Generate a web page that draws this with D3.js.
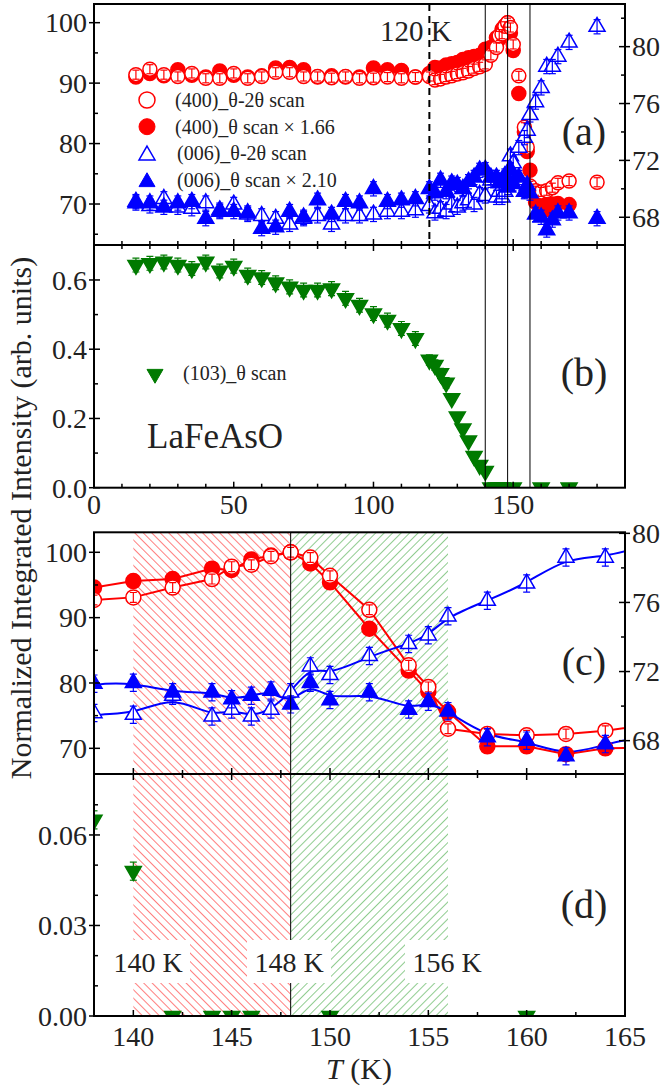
<!DOCTYPE html>
<html>
<head>
<meta charset="utf-8">
<script src="https://cdnjs.cloudflare.com/ajax/libs/d3/7.8.5/d3.min.js"></script>
<style>
  body { margin: 0; background: #fff; }
  svg { display: block; font-family: "Liberation Serif", "Times New Roman", serif; }
</style>
</head>
<body>
<svg id="chart" width="664" height="1087" font-family="Liberation Serif, serif"></svg>
<script>
// temperatures (K) shared by the (400) and (006) scans
const temps = [15, 20, 25, 30, 35, 40, 45, 50, 55, 60, 65, 70, 75, 80, 85, 90, 95, 100, 105, 110, 115,
    120, 122, 124, 126, 128, 130, 132, 134, 136,
    138, 140, 142, 144, 145, 146, 147, 148, 149, 150,
    152, 154, 155, 156, 158, 160, 162, 164, 166, 170, 180];
// (400) theta-2theta, left axis
const red2theta = [91.4, 92.3, 91.4, 91.1, 91.6, 90.8, 90.8, 91.6, 90.8, 91.1, 91.8, 91.8, 91.1, 91.1, 90.9, 91.1, 90.8, 90.9, 91.0, 90.8, 91.0,
    91.1, 90.5, 90.7, 91.0, 91.2, 91.5, 91.7, 92.0, 92.4,
    92.7, 93.1, 94.6, 95.9, 97.8, 98.1, 99.4, 100, 99.2, 96.4,
    91.2, 82.7, 79.4, 73.0, 72.2, 72.0, 72.2, 72.7, 73.5, 73.8, 73.6];
// (400) theta scan x 1.66, left axis
const redTheta = [91.0, 91.6, 91.2, 92.2, 91.3, 91.0, 92.0, 91.3, 91.0, 91.2, 92.5, 92.6, 92.2, 91.0, 91.2, 91.0, 91.0, 92.5, 92.2, 92.1, 91.0,
    91.6, 92.6, 92.5, 93.0, 93.2, 93.4, 93.9, 94.2, 94.4,
    94.6, 95.6, 95.9, 97.5, 97.3, 98.9, 99.5, 100, 98.3, 95.4,
    88.3, 81.9, 78.7, 75.6, 70.3, 70.3, 69.1, 70.0, 70.1, 69.9, null];
// (006) theta-2theta, right axis
const blue2theta = [69.0, 68.8, 69.3, 68.7, 68.6, 69.0, 68.5, 68.9, 68.2, 68.1, 67.9, 67.5, 67.9, 68.1, 67.5, 68.1, 68.1, 68.2, 68.4, 68.4, 68.5,
    68.8, 68.3, 68.6, 68.4, 68.9, 68.7, 69.0, 69.2, 68.9,
    69.6, 69.5, 70.6, 69.4, 69.8, 69.4, 69.8, 70.8, 72.3, 71.8,
    72.9, 73.6, 74.1, 75.2, 76.1, 77.1, 78.6, 78.6, 79.3, 80.3, 81.4];
// (006) theta scan x 2.10, right axis
const blueTheta = [69.1, 69.0, 68.7, 69.0, 69.1, 67.9, 68.4, 68.4, 68.3, 67.2, 67.3, 68.4, 68.0, 69.2, 68.2, 69.1, 69.0, 70.0, 69.1, 69.2, 69.3,
    70.0, 69.7, 70.6, 69.8, 70.4, 70.3, 70.0, 70.5, 70.8,
    71.3, 71.35, 70.8, 70.8, 70.4, 70.6, 70.9, 70.1, 71.35, 70.35,
    70.8, 69.8, 70.25, 69.7, 68.2, 68.0, 67.1, 67.8, 68.3, 68.3, 67.9];
const errRed = 0.75;
const errBlue = 0.5;

// (103) theta scan
const tGreen = [15, 20, 25, 30, 35, 40, 45, 50, 55, 60, 65, 70, 75, 80, 85, 90, 95, 100, 105, 110, 115,
    120, 122, 124, 126, 128, 130, 132, 134, 136, 138, 140,
    142, 144, 145, 146, 150, 160, 170];
const green103 = [0.643, 0.648, 0.652, 0.643, 0.633, 0.652, 0.626, 0.640, 0.614, 0.607, 0.592, 0.580, 0.571, 0.571, 0.575, 0.547, 0.527, 0.503, 0.484, 0.460, 0.431,
    0.369, 0.354, 0.330, 0.303, 0.258, 0.205, 0.171, 0.136, 0.091, 0.065, 0.048,
    0, 0, 0, 0, 0, 0, 0];
const greenErr = [0.02, 0.02, 0.02, 0.02, 0.02, 0.02, 0.02, 0.02, 0.02, 0.02, 0.02, 0.02, 0.02, 0.02, 0.02, 0.02, 0.02, 0.02, 0.02, 0.02, 0.02,
    0.015, 0.015, 0.015, 0.015, 0.01, 0.01, 0.01, 0.01, 0.01, 0.003, 0.003,
    0, 0, 0, 0, 0, 0, 0];

const transitions = [140, 148, 156];
const dashedT = 120;
const redZone = [140, 148];
const greenZone = [148, 156];
const zoneLabels = [["140 K", 148], ["148 K", 289], ["156 K", 447]];

const legendA = ["(400)_\u03b8-2\u03b8 scan", "(400)_\u03b8 scan \u00d7 1.66", "(006)_\u03b8-2\u03b8 scan", "(006)_\u03b8 scan \u00d7 2.10"];

const xTicksAB = [0, 50, 100, 150];
const xMinorAB = [10, 20, 30, 40, 60, 70, 80, 90, 110, 120, 130, 140, 160, 170, 180];
const xTicksCD = [140, 145, 150, 155, 160, 165];
const xMinorCD = [142.5, 147.5, 152.5, 157.5, 162.5];
const yTicksA = [70, 80, 90, 100], yMinorA = [65, 75, 85, 95];
const yTicksA2 = [68, 72, 76, 80], yMinorA2 = [70, 74, 78, 82];
const yTicksB = [0, 0.2, 0.4, 0.6], yMinorB = [0.1, 0.3, 0.5];
const yTicksC = [70, 80, 90, 100], yMinorC = [75, 85, 95];
const yTicksC2 = [68, 72, 76, 80], yMinorC2 = [70, 74, 78];
const yTicksD = [0, 0.03, 0.06], yMinorD = [0.01, 0.02, 0.04, 0.05, 0.07];

const RED = "#ff0000", BLUE = "#0000ff", GREEN = "#007a00";

const svg = d3.select("#chart");
const X0 = 94, X1 = 625;
const A = { top: 4, bottom: 245 }, B = { top: 245, bottom: 487.7 };
const C = { top: 532.3, bottom: 774 }, D = { top: 774, bottom: 1016 };

const xAB = d3.scaleLinear().domain([0, 190]).range([X0, X1]);
const xCD = d3.scaleLinear().domain([138, 165]).range([X0, X1]);
const yA = d3.scaleLinear().domain([63.22, 103.09]).range([A.bottom, A.top]);
const yA2 = d3.scaleLinear().domain([66.05, 83.0]).range([A.bottom, A.top]);
const yB = d3.scaleLinear().domain([0, 0.701]).range([B.bottom, B.top]);
const yC = d3.scaleLinear().domain([66.07, 103.06]).range([C.bottom, C.top]);
const yC2 = d3.scaleLinear().domain([66.07, 80.06]).range([C.bottom, C.top]);
const yD = d3.scaleLinear().domain([0, 0.0802]).range([D.bottom, D.top]);

const defs = svg.append("defs");
[["clipA", A], ["clipB", B], ["clipC", C], ["clipD", D]].forEach(([id, p]) => {
    defs.append("clipPath").attr("id", id).append("rect")
        .attr("x", X0).attr("y", p.top).attr("width", X1 - X0).attr("height", p.bottom - p.top);
});
function hatch(id, color, angle) {
    defs.append("pattern").attr("id", id)
        .attr("patternUnits", "userSpaceOnUse")
        .attr("width", 6).attr("height", 6)
        .attr("patternTransform", `rotate(${angle})`)
        .append("line").attr("x1", 0).attr("y1", 0).attr("x2", 0).attr("y2", 6)
        .attr("stroke", color).attr("stroke-width", 1);
}
hatch("hatchRed", RED, -45);
hatch("hatchGreen", "#229922", 45);

const series = (ys) => temps.map((t, i) => ({ t, v: ys[i] })).filter(d => d.v != null);
const redOpen = series(red2theta), redFull = series(redTheta);
const blueOpen = series(blue2theta), blueFull = series(blueTheta);
const greenPts = tGreen.map((t, i) => ({ t, v: green103[i], e: greenErr[i] }));

// marker paths, centred on the centroid
const S = 16, H = S * Math.sqrt(3) / 2;
const triUp = `M0,${-2 * H / 3}L${S / 2},${H / 3}L${-S / 2},${H / 3}Z`;
const triDown = `M0,${2 * H / 3}L${S / 2},${-H / 3}L${-S / 2},${-H / 3}Z`;

function errBars(g, data, x, y, err, color) {
    const gg = g.append("g").attr("stroke", color).attr("stroke-width", 1.2);
    data.forEach(d => {
        const e = typeof err === "number" ? err : d.e;
        if (!e) return;
        const cx = x(d.t), y1 = y(d.v - e), y2 = y(d.v + e);
        gg.append("line").attr("x1", cx).attr("x2", cx).attr("y1", y1).attr("y2", y2);
        gg.append("line").attr("x1", cx - 3.5).attr("x2", cx + 3.5).attr("y1", y1).attr("y2", y1);
        gg.append("line").attr("x1", cx - 3.5).attr("x2", cx + 3.5).attr("y1", y2).attr("y2", y2);
    });
}
function circles(g, data, x, y, r, filled, err) {
    if (filled) errBars(g, data, x, y, err, RED);
    g.append("g").selectAll("circle").data(data).join("circle")
        .attr("cx", d => x(d.t)).attr("cy", d => y(d.v)).attr("r", r)
        .attr("fill", filled ? RED : "#fff").attr("stroke", RED).attr("stroke-width", 1.5);
    if (!filled) errBars(g, data, x, y, err, RED);
}
function tris(g, data, x, y, path, color, filled, err) {
    if (filled) errBars(g, data, x, y, err, color);
    g.append("g").selectAll("path").data(data).join("path")
        .attr("transform", d => `translate(${x(d.t)},${y(d.v)})`)
        .attr("d", path)
        .attr("fill", filled ? color : "#fff").attr("stroke", color).attr("stroke-width", 1.5);
    if (!filled) errBars(g, data, x, y, err, color);
}

// ---------- hatched zones in (c)/(d)
[[redZone, "hatchRed"], [greenZone, "hatchGreen"]].forEach(([z, id]) => {
    svg.append("rect").attr("x", xCD(z[0])).attr("y", C.top)
        .attr("width", xCD(z[1]) - xCD(z[0])).attr("height", D.bottom - C.top)
        .attr("fill", `url(#${id})`);
});

// ---------- panel (a)
const gA = svg.append("g").attr("clip-path", "url(#clipA)");
circles(gA, redFull, xAB, yA, 7, true, errRed);
circles(gA, redOpen, xAB, yA, 7, false, errRed);
tris(gA, blueOpen, xAB, yA2, triUp, BLUE, false, errBlue);
tris(gA, blueFull, xAB, yA2, triUp, BLUE, true, errBlue);

// ---------- panel (b)
const gB = svg.append("g").attr("clip-path", "url(#clipB)");
tris(gB, greenPts, xAB, yB, triDown, GREEN, true, null);

// ---------- panel (c)
const gC = svg.append("g").attr("clip-path", "url(#clipC)");
const lineRed = d3.line().x(d => xCD(d.t)).y(d => yC(d.v));
const lineBlue = d3.line().x(d => xCD(d.t)).y(d => yC2(d.v)).curve(d3.curveBasis);
[redFull, redOpen].forEach(s => gC.append("path").attr("d", lineRed(s))
    .attr("fill", "none").attr("stroke", RED).attr("stroke-width", 2));
[blueOpen, blueFull].forEach(s => gC.append("path").attr("d", lineBlue(s))
    .attr("fill", "none").attr("stroke", BLUE).attr("stroke-width", 2));
circles(gC, redFull, xCD, yC, 7.5, true, errRed);
circles(gC, redOpen, xCD, yC, 7.5, false, errRed);
tris(gC, blueOpen, xCD, yC2, triUp, BLUE, false, errBlue);
tris(gC, blueFull, xCD, yC2, triUp, BLUE, true, errBlue);

// ---------- panel (d)
const gD = svg.append("g").attr("clip-path", "url(#clipD)");
tris(gD, greenPts, xCD, yD, triDown, GREEN, true, null);

// ---------- reference lines
transitions.forEach(t => {
    svg.append("line").attr("x1", xAB(t)).attr("x2", xAB(t)).attr("y1", A.top).attr("y2", B.bottom)
        .attr("stroke", "#000").attr("stroke-width", 1);
});
svg.append("line").attr("x1", xCD(148)).attr("x2", xCD(148)).attr("y1", C.top).attr("y2", D.bottom)
    .attr("stroke", "#000").attr("stroke-width", 1);

svg.append("text").attr("x", 380).attr("y", 41).attr("font-size", 29).attr("fill", "#222").text("120 K");
svg.append("line").attr("x1", xAB(dashedT)).attr("x2", xAB(dashedT)).attr("y1", A.top).attr("y2", A.bottom)
    .attr("stroke", "#000").attr("stroke-width", 2).attr("stroke-dasharray", "7,5");

// ---------- zone labels with white boxes in (d)
zoneLabels.forEach(([txt, cx]) => {
    svg.append("rect").attr("x", cx - 42).attr("y", 940).attr("width", 84).attr("height", 43).attr("fill", "#fff");
    svg.append("text").attr("x", cx).attr("y", 972).attr("text-anchor", "middle")
        .attr("font-size", 28).attr("fill", "#222").text(txt);
});

// ---------- frames and ticks
[A, B, C, D].forEach(p => {
    svg.append("rect").attr("x", X0).attr("y", p.top).attr("width", X1 - X0).attr("height", p.bottom - p.top)
        .attr("fill", "none").attr("stroke", "#000").attr("stroke-width", 2);
});
function ticksX(x, yPos, majors, minors, dir) {
    const g = svg.append("g").attr("stroke", "#000").attr("stroke-width", 1.5);
    majors.forEach(v => g.append("line").attr("x1", x(v)).attr("x2", x(v)).attr("y1", yPos).attr("y2", yPos + dir * 6));
    minors.forEach(v => g.append("line").attr("x1", x(v)).attr("x2", x(v)).attr("y1", yPos).attr("y2", yPos + dir * 4));
}
function ticksY(y, xPos, majors, minors, side) {
    const g = svg.append("g").attr("stroke", "#000").attr("stroke-width", 1.5);
    majors.forEach(v => g.append("line").attr("y1", y(v)).attr("y2", y(v)).attr("x1", xPos - side * 6).attr("x2", xPos + side * 5));
    minors.forEach(v => g.append("line").attr("y1", y(v)).attr("y2", y(v)).attr("x1", xPos).attr("x2", xPos - side * 4));
}
ticksX(xAB, A.bottom, xTicksAB, xMinorAB, -1);
ticksX(xAB, B.top, xTicksAB, xMinorAB, 1);
ticksX(xAB, B.bottom, xTicksAB, xMinorAB, -1);
ticksX(xCD, C.bottom, xTicksCD, xMinorCD, -1);
ticksX(xCD, D.top, xTicksCD, xMinorCD, 1);
ticksX(xCD, D.bottom, xTicksCD, xMinorCD, -1);
ticksY(yA, X0, yTicksA, yMinorA, -1);
ticksY(yA2, X1, yTicksA2, yMinorA2, 1);
ticksY(yB, X0, yTicksB, yMinorB, -1);
ticksY(yC, X0, yTicksC, yMinorC, -1);
ticksY(yC2, X1, yTicksC2, yMinorC2, 1);
ticksY(yD, X0, yTicksD, yMinorD, -1);

function labelsY(y, vals, fmt, xPos, anchor) {
    vals.forEach(v => svg.append("text").attr("x", xPos).attr("y", y(v)).attr("dy", "0.35em")
        .attr("text-anchor", anchor).attr("font-size", 28).attr("fill", "#222").text(fmt(v)));
}
function labelsX(x, vals, yPos) {
    vals.forEach(v => svg.append("text").attr("x", x(v)).attr("y", yPos)
        .attr("text-anchor", "middle").attr("font-size", 28).attr("fill", "#222").text(v));
}
labelsY(yA, yTicksA, d3.format("d"), 87, "end");
labelsY(yA2, yTicksA2, d3.format("d"), 632, "start");
labelsY(yB, yTicksB, d3.format(".1f"), 87, "end");
labelsY(yC, yTicksC, d3.format("d"), 87, "end");
labelsY(yC2, yTicksC2, d3.format("d"), 632, "start");
labelsY(yD, yTicksD, d3.format(".2f"), 87, "end");
labelsX(xAB, xTicksAB, 514);
labelsX(xCD, xTicksCD, 1046);

// ---------- legends
const legG = svg.append("g");
const legY = [100, 126.7, 153.3, 180];
legG.append("circle").attr("cx", 147).attr("cy", legY[0]).attr("r", 8).attr("fill", "#fff").attr("stroke", RED).attr("stroke-width", 1.5);
legG.append("circle").attr("cx", 147).attr("cy", legY[1]).attr("r", 8).attr("fill", RED).attr("stroke", RED);
legG.append("path").attr("transform", `translate(147,${legY[2] + 2})`).attr("d", triUp).attr("fill", "#fff").attr("stroke", BLUE).attr("stroke-width", 1.5);
legG.append("path").attr("transform", `translate(147,${legY[3] + 2})`).attr("d", triUp).attr("fill", BLUE).attr("stroke", BLUE);
legendA.forEach((t, i) => legG.append("text").attr("x", i < 2 ? 175 : 177).attr("y", legY[i] + 7)
    .attr("font-size", 20).attr("fill", "#222").text(t));
legG.append("path").attr("transform", "translate(155,374)").attr("d", triDown).attr("fill", GREEN).attr("stroke", GREEN);
legG.append("text").attr("x", 183).attr("y", 380).attr("font-size", 20).attr("fill", "#222").text("(103)_\u03b8 scan");

// ---------- panel letters and labels
[["(a)", 145], ["(b)", 386], ["(c)", 675], ["(d)", 918]].forEach(([t, y]) => {
    svg.append("text").attr("x", 584).attr("y", y).attr("text-anchor", "middle")
        .attr("font-size", 40).attr("fill", "#222").text(t);
});
svg.append("text").attr("x", 147).attr("y", 448).attr("font-size", 35).attr("fill", "#222").text("LaFeAsO");

svg.append("text").attr("transform", "translate(31,518) rotate(-90)").attr("text-anchor", "middle")
    .attr("font-size", 30).attr("fill", "#222").text("Normalized Integrated Intensity (arb. units)");
const xl = svg.append("text").attr("x", 359).attr("y", 1079).attr("text-anchor", "middle")
    .attr("font-size", 30).attr("fill", "#222");
xl.append("tspan").attr("font-style", "italic").text("T");
xl.append("tspan").text(" (K)");
</script>
</body>
</html>
